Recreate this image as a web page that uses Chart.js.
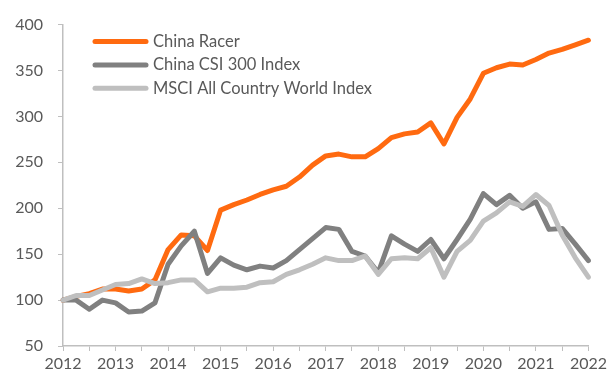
<!DOCTYPE html>
<html>
<head>
<meta charset="utf-8">
<script src="https://cdn.jsdelivr.net/npm/chart.js@4.4.0/dist/chart.umd.min.js"></script>
<style>
  html, body { margin: 0; padding: 0; background: #fff; }
  #wrap { width: 610px; height: 376px; }
</style>
</head>
<body>
<div id="wrap"><canvas id="myChart" width="610" height="376"></canvas></div>
<script>
// quarterly points, 2012 Q1 .. 2022 Q1
const years = ['2012','2013','2014','2015','2016','2017','2018','2019','2020','2021','2022'];
const quarters = [];
years.forEach(function(y, i){
  const n = (i == years.length - 1) ? 1 : 4;
  for (let q = 0; q < n; q++) quarters.push(y + ' Q' + (q + 1));
});

const chinaRacer = [100, 104, 107, 112, 112, 110, 112, 122, 155, 171, 170, 154,
  198, 204, 209, 215, 220, 224, 234, 247, 257, 259, 256, 256,
  265, 277, 281, 283, 293, 270, 299, 319, 347, 353, 357, 356,
  362, 369, 373, 378, 383];
const csi300 = [100, 100, 90, 100, 97, 87, 88, 97, 139, 159, 175, 129,
  146, 138, 133, 137, 135, 143, 155, 167, 179, 177, 153, 148,
  130, 170, 161, 153, 166, 145, 166, 188, 216, 204, 214, 200,
  207, 177, 178, 161, 143];
const msciAcwi = [100, 105, 105, 111, 117, 118, 123, 118, 119, 122, 122, 109,
  113, 113, 114, 119, 120, 128, 133, 139, 146, 143, 143, 148,
  128, 145, 146, 145, 157, 125, 153, 165, 186, 195, 207, 202,
  215, 203, 171, 146, 125];

const seriesNames = ['China Racer', 'China CSI 300 Index', 'MSCI All Country World Index'];
const seriesColors = ['#FF6A10', '#808080', '#BFBFBF'];

const ctx = document.getElementById('myChart');
const textColor = '#595959';
const axisColor = '#BFBFBF';
const fontFamily = "Lato, 'Open Sans', sans-serif";

// draws the legend inside the plot, top-left, like the original
const insideLegend = {
  id: 'insideLegend',
  afterDraw(chart) {
    const c = chart.ctx;
    const x0 = chart.chartArea.left + 30;
    let y = chart.chartArea.top + 17;
    c.save();
    c.font = '16.5px ' + fontFamily;
    c.textBaseline = 'middle';
    chart.data.datasets.forEach(function(ds){
      c.strokeStyle = ds.borderColor;
      c.lineWidth = 5;
      c.lineCap = 'round';
      c.beginPath();
      c.moveTo(x0 + 2, y);
      c.lineTo(x0 + 53, y);
      c.stroke();
      c.fillStyle = textColor;
      c.fillText(ds.label, x0 + 60, y);
      y += 23.3;
    });
    c.restore();
  }
};

new Chart(ctx, {
  type: 'line',
  data: {
    labels: quarters,
    datasets: [
      // later series sit on top, as in the original
      { label: seriesNames[0], data: chinaRacer, borderColor: seriesColors[0], order: 2 },
      { label: seriesNames[1], data: csi300, borderColor: seriesColors[1], order: 1 },
      { label: seriesNames[2], data: msciAcwi, borderColor: seriesColors[2], order: 0 }
    ].map(function(d){
      return Object.assign(d, { borderWidth: 5, pointRadius: 0, tension: 0,
        borderJoinStyle: 'round', borderCapStyle: 'round', fill: false });
    })
  },
  options: {
    animation: false,
    responsive: false,
    layout: { padding: { top: 19, right: 20, left: 0, bottom: 0 } },
    plugins: {
      legend: { display: false },
      tooltip: { enabled: false }
    },
    scales: {
      x: {
        offset: false,
        grid: {
          drawOnChartArea: false,
          tickLength: 5,
          color: function(c){ return c.index % 2 == 0 ? axisColor : 'rgba(0,0,0,0)'; }
        },
        border: { color: axisColor, width: 1.5 },
        ticks: {
          autoSkip: false,
          maxRotation: 0,
          color: textColor,
          font: { size: 16, family: fontFamily },
          padding: 3,
          callback: function(v, i){ return i % 4 == 0 ? quarters[i].slice(0, 4) : ''; }
        },
        afterFit: function(s){ s.height = 30; }
      },
      y: {
        min: 50,
        max: 400,
        grid: { drawOnChartArea: false, tickLength: 5, color: axisColor },
        border: { color: axisColor, width: 1.5 },
        ticks: {
          stepSize: 50,
          color: textColor,
          font: { size: 16, family: fontFamily },
          padding: 15
        },
        afterFit: function(s){ s.width = 63; }
      }
    }
  },
  plugins: [insideLegend]
});
</script>
</body>
</html>
